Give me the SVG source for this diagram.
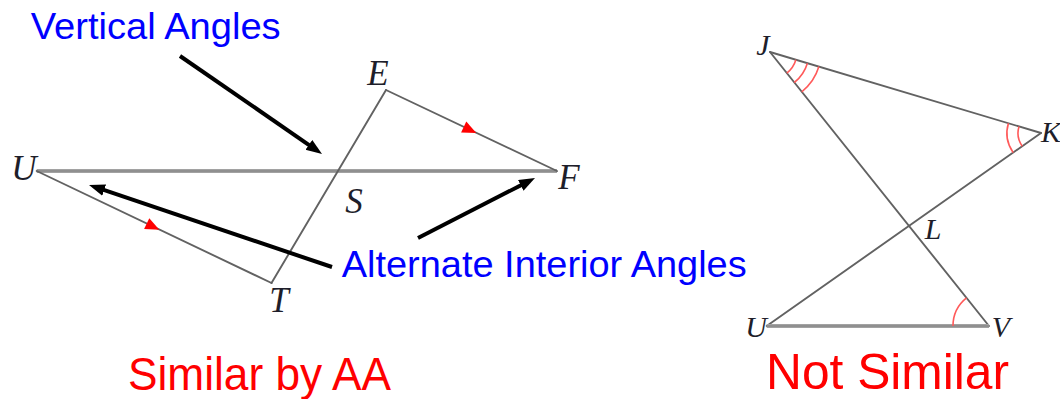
<svg xmlns="http://www.w3.org/2000/svg" width="1060" height="399" viewBox="0 0 1060 399">
<style>
.thin{stroke:#626262;stroke-width:1.9;fill:none;stroke-linecap:round}
.thick{stroke:#a2a2a2;stroke-width:4;fill:none}
.core{stroke:#888;stroke-width:1.4;fill:none}
.arc{stroke:#ff5a5a;stroke-width:1.6;fill:none}
.lbl{font-family:"Liberation Serif","DejaVu Serif",serif;font-style:italic;fill:#1e1e2a;text-anchor:middle}
.big{font-size:35px}
.small{font-size:30px}
.blue{font-family:"Liberation Sans",Arial,sans-serif;fill:#0000ff;font-size:37px}
.red{font-family:"Liberation Sans",Arial,sans-serif;fill:#ff0000}
.ptr{stroke:#000;stroke-width:4;fill:none}
.tick{fill:#ff0000}
</style>
<defs>
<marker id="ah" markerUnits="userSpaceOnUse" markerWidth="18" markerHeight="14" refX="6" refY="6" orient="auto">
<path d="M0,0 L16,6 L0,12 z" fill="#000"/>
</marker>
</defs>

<g id="figure-left">
<g id="seg-UF"><line class="thick" x1="36.7" y1="171" x2="557" y2="171"/><line class="core" x1="36.7" y1="171" x2="557" y2="171"/></g>
<g id="seg-EF"><line class="thin" x1="386" y1="90" x2="557" y2="171"/></g>
<g id="seg-ET"><line class="thin" x1="386" y1="90" x2="271.5" y2="283"/></g>
<g id="seg-UT"><line class="thin" x1="36.7" y1="171" x2="271.5" y2="283"/></g>
<g id="ticks-left">
<polygon class="tick" points="476.3,133 461.1,132.4 466.3,121.6"/>
<polygon class="tick" points="159.3,229.7 144.1,229.1 149.3,218.3"/>
</g>
<g id="node-U1"><text class="lbl big" x="24" y="180">U</text></g>
<g id="node-E"><text class="lbl big" x="378" y="85">E</text></g>
<g id="node-F"><text class="lbl big" x="569" y="189">F</text></g>
<g id="node-S"><text class="lbl big" x="354" y="213">S</text></g>
<g id="node-T"><text class="lbl big" x="279" y="312">T</text></g>
</g>

<g id="figure-right">
<g id="seg-JK"><line class="thin" x1="770" y1="52" x2="1041" y2="133"/></g>
<g id="seg-JV"><line class="thin" x1="770" y1="52" x2="989" y2="326"/></g>
<g id="seg-KU"><line class="thin" x1="1041" y1="133" x2="766.7" y2="326"/></g>
<g id="seg-UV"><line class="thick" x1="766.7" y1="326" x2="989" y2="326"/><line class="core" x1="766.7" y1="326" x2="989" y2="326"/></g>
<g id="arcs">
<path class="arc" d="M795.9,59.7 A27,27 0 0 1 786.8,73.1"/>
<path class="arc" d="M807.4,63.2 A39,39 0 0 1 794.3,82.5"/>
<path class="arc" d="M818.9,66.6 A51,51 0 0 1 801.8,91.8"/>
<path class="arc" d="M1019,126.4 A23,23 0 0 0 1022.2,146.2"/>
<path class="arc" d="M1008.4,123.3 A34,34 0 0 0 1013.2,152.6"/>
<path class="arc" d="M953,326 A36,36 0 0 1 966.5,297.9"/>
</g>
<g id="node-J"><text class="lbl small" x="763" y="55">J</text></g>
<g id="node-K"><text class="lbl small" x="1051" y="142">K</text></g>
<g id="node-L"><text class="lbl small" x="933" y="239">L</text></g>
<g id="node-U2"><text class="lbl small" x="756" y="337">U</text></g>
<g id="node-V"><text class="lbl small" x="1001" y="337">V</text></g>
</g>

<g id="connectors">
<line class="ptr" x1="180" y1="56" x2="313.8" y2="148.3" marker-end="url(#ah)"/>
<line class="ptr" x1="332" y1="267" x2="98.5" y2="188.2" marker-end="url(#ah)"/>
<line class="ptr" x1="418" y1="238" x2="526.1" y2="182.6" marker-end="url(#ah)"/>
</g>

<g id="captions">
<text class="blue" x="30.7" y="39.3" textLength="250" lengthAdjust="spacingAndGlyphs">Vertical Angles</text>
<text class="blue" x="341.7" y="276.7" textLength="405" lengthAdjust="spacingAndGlyphs">Alternate Interior Angles</text>
<text class="red" x="128" y="390" font-size="47" textLength="263" lengthAdjust="spacingAndGlyphs">Similar by AA</text>
<text class="red" x="766" y="389" font-size="50" textLength="243" lengthAdjust="spacingAndGlyphs">Not Similar</text>
</g>
</svg>
